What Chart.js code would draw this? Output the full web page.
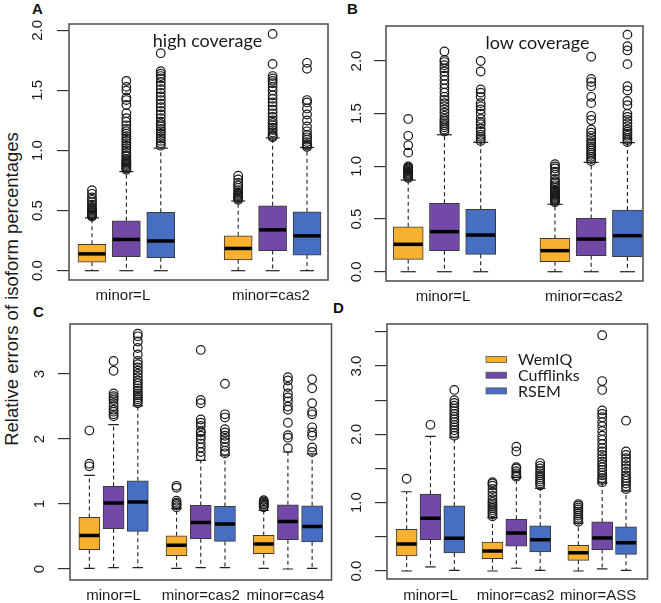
<!DOCTYPE html>
<html><head><meta charset="utf-8">
<script src="https://cdn.jsdelivr.net/npm/chart.js@4"></script>
<style>
html,body{margin:0;padding:0;background:#fff}
body{width:661px;height:603px;overflow:hidden;position:relative;font-family:"Liberation Sans",Arial,sans-serif}
canvas{position:absolute}
.letter{position:absolute;font:bold 15px/1 "Liberation Sans",Arial,sans-serif;color:#111}
#yt{position:absolute;left:12px;top:289px;width:0;height:0}
#yt div{position:absolute;left:0;top:0;transform:translate(-50%,-50%) rotate(-90deg);white-space:nowrap;font:18.5px/1 "Liberation Sans",Arial,sans-serif;color:#1a1a1a}
</style></head><body>
<div id="yt"><div>Relative errors of isoform percentages</div></div>
<div class="letter" style="left:32px;top:1px">A</div>
<div class="letter" style="left:347px;top:1px">B</div>
<div class="letter" style="left:33px;top:304px">C</div>
<div class="letter" style="left:333px;top:300px">D</div>
<canvas id="cA"></canvas>
<canvas id="cB"></canvas>
<canvas id="cC"></canvas>
<canvas id="cD"></canvas>
<script>
// ---------------- data ----------------
const methods = ['WemIQ', 'Cufflinks', 'RSEM'];
const colors = ['#F7B030', '#7249A6', '#466EC1'];

// box stats per group: [low whisker, Q1, median, Q3, high whisker]
// Panel A (high coverage)
const A_groups = ['minor=L', 'minor=cas2'];
const A_yticks = [0, 0.5, 1, 1.5, 2];
const A_ylabels = ['0.0', '0.5', '1.0', '1.5', '2.0'];
const A_WemIQ = [[0, 0.07, 0.14, 0.22, 0.44], [0, 0.09, 0.185, 0.29, 0.58]];
const A_Cufflinks = [[0, 0.117, 0.26, 0.415, 0.825], [0, 0.167, 0.34, 0.54, 1.105]];
const A_RSEM = [[0, 0.108, 0.247, 0.486, 1.02], [0, 0.13, 0.29, 0.49, 1.025]];
const A_WemIQ_out = [
  [0.45, 0.46, 0.465, 0.47, 0.48, 0.49, 0.50, 0.51, 0.52, 0.53, 0.55, 0.57, 0.59, 0.61, 0.64, 0.67],
  [0.59, 0.60, 0.61, 0.62, 0.63, 0.64, 0.65, 0.67, 0.69, 0.71, 0.73, 0.76, 0.79]];
const A_Cufflinks_out = [
  [0.84, 0.85, 0.86, 0.87, 0.88, 0.89, 0.90, 0.91, 0.92, 0.93, 0.95, 0.96, 0.98, 1.00, 1.02, 1.04, 1.06, 1.08, 1.10, 1.12, 1.14, 1.16, 1.18, 1.21, 1.24, 1.27, 1.31, 1.38, 1.42, 1.44, 1.50, 1.53, 1.58],
  [1.11, 1.12, 1.13, 1.15, 1.17, 1.19, 1.21, 1.23, 1.25, 1.28, 1.31, 1.34, 1.37, 1.40, 1.43, 1.46, 1.50, 1.53, 1.56, 1.58, 1.60, 1.62, 1.72, 1.97]];
const A_RSEM_out = [
  [1.04, 1.06, 1.08, 1.10, 1.12, 1.14, 1.16, 1.18, 1.20, 1.22, 1.24, 1.27, 1.30, 1.33, 1.36, 1.39, 1.42, 1.45, 1.48, 1.51, 1.54, 1.57, 1.60, 1.62, 1.64, 1.66, 1.81],
  [1.03, 1.04, 1.05, 1.07, 1.09, 1.11, 1.13, 1.16, 1.20, 1.25, 1.30, 1.35, 1.40, 1.42, 1.68, 1.73]];

// Panel B (low coverage)
const B_groups = ['minor=L', 'minor=cas2'];
const B_yticks = [0, 0.5, 1, 1.5, 2];
const B_ylabels = ['0.0', '0.5', '1.0', '1.5', '2.0'];
const B_WemIQ = [[0, 0.117, 0.26, 0.427, 0.87], [0, 0.095, 0.2, 0.316, 0.64]];
const B_Cufflinks = [[0, 0.2, 0.38, 0.65, 1.30], [0, 0.152, 0.31, 0.506, 1.038]];
const B_RSEM = [[0, 0.165, 0.348, 0.592, 1.228], [0, 0.142, 0.342, 0.585, 1.225]];
const B_WemIQ_out = [
  [0.89, 0.90, 0.91, 0.92, 0.93, 0.94, 0.95, 0.96, 0.97, 0.98, 0.99, 1.00, 1.13, 1.20, 1.29, 1.45],
  [0.66, 0.67, 0.68, 0.69, 0.70, 0.71, 0.72, 0.73, 0.74, 0.75, 0.76, 0.77, 0.78, 0.80, 0.82, 0.84, 0.86, 0.88, 0.92, 0.95, 0.98, 1.00, 1.02]];
const B_Cufflinks_out = [
  [1.33, 1.35, 1.37, 1.39, 1.41, 1.43, 1.45, 1.48, 1.51, 1.54, 1.57, 1.60, 1.63, 1.66, 1.70, 1.74, 1.78, 1.82, 1.86, 1.90, 1.93, 1.96, 1.99, 2.01, 2.09],
  [1.05, 1.07, 1.09, 1.11, 1.13, 1.15, 1.17, 1.19, 1.21, 1.23, 1.26, 1.29, 1.32, 1.35, 1.44, 1.48, 1.60, 1.66, 1.76, 1.80, 1.83, 2.04]];
const B_RSEM_out = [
  [1.24, 1.26, 1.28, 1.30, 1.33, 1.36, 1.40, 1.42, 1.45, 1.50, 1.54, 1.57, 1.60, 1.66, 1.70, 1.73, 1.90, 2.00],
  [1.23, 1.25, 1.27, 1.29, 1.31, 1.33, 1.35, 1.38, 1.41, 1.44, 1.47, 1.50, 1.58, 1.62, 1.72, 1.76, 1.97, 2.10, 2.14, 2.25]];

// Panel C
const C_groups = ['minor=L', 'minor=cas2', 'minor=cas4'];
const C_yticks = [0, 1, 2, 3];
const C_ylabels = ['0', '1', '2', '3'];
const C_WemIQ = [[0.01, 0.297, 0.517, 0.794, 1.44], [0.01, 0.205, 0.364, 0.512, 0.93], [0.01, 0.236, 0.384, 0.517, 0.90]];
const C_Cufflinks = [[0.02, 0.62, 1.014, 1.27, 2.22], [0.02, 0.466, 0.717, 0.978, 1.67], [0, 0.45, 0.732, 0.988, 1.80]];
const C_RSEM = [[0.02, 0.579, 1.03, 1.357, 2.51], [0.02, 0.425, 0.691, 0.963, 1.75], [0.01, 0.415, 0.655, 0.973, 1.77]];
const C_WemIQ_out = [
  [1.58, 1.62, 2.13],
  [0.95, 0.98, 1.00, 1.02, 1.05, 1.25, 1.28],
  [0.95, 0.97, 0.99, 1.00, 1.02, 1.04, 1.06]];
const C_Cufflinks_out = [
  [2.35, 2.38, 2.42, 2.45, 2.50, 2.55, 2.60, 2.63, 2.66, 2.70, 3.05, 3.20],
  [1.73, 1.80, 1.87, 1.93, 2.00, 2.05, 2.10, 2.12, 2.20, 2.25, 2.30, 2.55, 2.60, 3.37],
  [1.86, 2.02, 2.06, 2.25, 2.45, 2.50, 2.58, 2.64, 2.70, 2.80, 2.90, 2.95]];
const C_RSEM_out = [
  [2.55, 2.58, 2.61, 2.64, 2.67, 2.70, 2.74, 2.78, 2.82, 2.86, 2.90, 2.95, 3.00, 3.05, 3.10, 3.15, 3.20, 3.30, 3.40, 3.50, 3.58, 3.62],
  [1.78, 1.82, 1.88, 1.95, 2.00, 2.05, 2.10, 2.15, 2.33, 2.38, 2.85],
  [1.80, 1.87, 2.05, 2.10, 2.18, 2.38, 2.42, 2.55, 2.78, 2.92]];

// Panel D
const D_groups = ['minor=L', 'minor=cas2', 'minor=ASS'];
const D_yticks = [0, 0.5, 1, 1.5, 2, 2.5, 3, 3.5];
const D_ylabels = ['0.0', '', '1.0', '', '2.0', '', '3.0', ''];
const D_WemIQ = [[0, 0.22, 0.396, 0.611, 1.16], [0, 0.181, 0.293, 0.425, 0.78], [0, 0.156, 0.269, 0.376, 0.70]];
const D_Cufflinks = [[0.06, 0.459, 0.772, 1.124, 1.97], [0.04, 0.362, 0.557, 0.757, 1.37], [0.03, 0.313, 0.484, 0.718, 1.29]];
const D_RSEM = [[0.01, 0.264, 0.479, 0.953, 1.95], [0.01, 0.278, 0.459, 0.66, 1.21], [0.01, 0.244, 0.415, 0.645, 1.17]];
const D_WemIQ_out = [
  [1.35],
  [0.80, 0.83, 0.86, 0.89, 0.92, 0.95, 0.98, 1.01, 1.05, 1.10, 1.15, 1.20, 1.25, 1.28, 1.30],
  [0.72, 0.75, 0.78, 0.81, 0.84, 0.87, 0.90, 0.93, 0.96, 0.98]];
const D_Cufflinks_out = [
  [2.14],
  [1.38, 1.40, 1.43, 1.46, 1.50, 1.52, 1.75, 1.82],
  [1.30, 1.33, 1.36, 1.40, 1.44, 1.48, 1.52, 1.56, 1.60, 1.65, 1.70, 1.75, 1.80, 1.86, 1.92, 1.98, 2.05, 2.12, 2.18, 2.25, 2.30, 2.35, 2.65, 2.78, 3.45]];
const D_RSEM_out = [
  [1.98, 2.02, 2.06, 2.10, 2.14, 2.18, 2.22, 2.26, 2.30, 2.34, 2.38, 2.42, 2.46, 2.50, 2.65],
  [1.25, 1.28, 1.31, 1.34, 1.37, 1.40, 1.43, 1.46, 1.50, 1.54, 1.58],
  [1.20, 1.24, 1.28, 1.32, 1.36, 1.40, 1.45, 1.50, 1.55, 1.60, 1.65, 1.70, 1.75, 2.20]];

// ---------------- layout (page pixels / axis units) ----------------
const SANS = '"Liberation Sans", Arial, sans-serif';
const NOTE = 'Lato, "Open Sans", sans-serif';
const LAY = {
  A: {canvas: [0, 0, 345, 312], frame: [69, 24, 340, 280], x: [0.333, 7.86], y: [-0.0775, 2.053], bases: [1, 5.25], labelAt: [1.9, 6.2], barW: 28, labelGap: 31.5, xPad: 7},
  B: {canvas: [343, 0, 661, 312], frame: [386, 26, 652, 281], x: [0.387, 7.48], y: [-0.088, 2.332], bases: [1, 5.05], labelAt: [1.96, 5.85], barW: 30, labelGap: 29, xPad: 7},
  C: {canvas: [0, 300, 345, 603], frame: [70, 324, 340, 580], x: [0.2, 11.0], y: [-0.169, 3.769], bases: [1, 4.6, 8.2], labelAt: [2, 5.6, 9.1], barW: 21, labelGap: 30, xPad: 7},
  D: {canvas: [343, 300, 661, 603], frame: [387, 324, 659, 579], x: [0.177, 11.1], y: [-0.117, 3.615], bases: [1, 4.6, 8.2], labelAt: [2, 5.57, 9.03], barW: 21, labelGap: 30, xPad: 8}
};

const framePlugin = {
  id: 'frame',
  afterDatasetsDraw(chart) {
    const {ctx, chartArea: a} = chart;
    ctx.save();
    ctx.strokeStyle = '#555';
    ctx.lineWidth = 1.6;
    ctx.strokeRect(a.left, a.top, a.right - a.left, a.bottom - a.top);
    ctx.restore();
  }
};

function notePlugin(text, dx, dy) {
  return {
    id: 'note',
    afterDraw(chart) {
      const {ctx, chartArea: a} = chart;
      ctx.save();
      ctx.font = '18px ' + NOTE;
      ctx.fillStyle = '#1a1a1a';
      ctx.textAlign = 'center';
      ctx.textBaseline = 'alphabetic';
      ctx.fillText(text, a.left + dx, a.top + dy);
      ctx.restore();
    }
  };
}

const legendPlugin = {
  id: 'boxlegend',
  afterDraw(chart) {
    const {ctx, chartArea: a} = chart;
    ctx.save();
    ctx.font = '16px ' + NOTE;
    ctx.textBaseline = 'middle';
    ctx.textAlign = 'left';
    methods.forEach((m, i) => {
      const cy = a.top + 35.5 + i * 15.7;
      ctx.fillStyle = colors[i];
      ctx.fillRect(a.left + 99, cy - 3, 20.5, 6);
      ctx.strokeStyle = '#555';
      ctx.lineWidth = 0.8;
      ctx.strokeRect(a.left + 99, cy - 3, 20.5, 6);
      ctx.fillStyle = '#1a1a1a';
      ctx.fillText(m, a.left + 131, cy + 0.5);
    });
    ctx.restore();
  }
};

const mctx = document.createElement('canvas').getContext('2d');
mctx.font = '15px ' + SANS;

function buildPanel(id, L, groups, boxes, outs, yTicks, yLabels, extraPlugins) {
  const canvas = document.getElementById(id);
  const [cl, ct, cr, cb] = L.canvas;
  const [fl, ft, fr, fb] = L.frame;
  canvas.width = cr - cl; canvas.height = cb - ct;
  canvas.style.left = cl + 'px'; canvas.style.top = ct + 'px';
  canvas.style.width = (cr - cl) + 'px'; canvas.style.height = (cb - ct) + 'px';

  const widest = Math.max(...yLabels.map(s => mctx.measureText(s).width));
  const yPad = L.labelGap - 12 - widest / 2;

  const datasets = [];
  const whisk = [], caps = [], meds = [], pts = [];
  methods.forEach((m, k) => {
    datasets.push({
      type: 'bar', label: m,
      data: groups.map((g, i) => ({x: L.bases[i] + k, y: [boxes[k][i][1], boxes[k][i][3]]})),
      backgroundColor: colors[k], borderColor: '#3a3a3a', borderWidth: 1, borderSkipped: false,
      barThickness: L.barW, grouped: false, order: 3
    });
    groups.forEach((g, i) => {
      const x = L.bases[i] + k;
      const [lo, q1, md, q3, hi] = boxes[k][i];
      whisk.push({x, y: q3}, {x, y: hi}, {x, y: null}, {x, y: q1}, {x, y: lo}, {x, y: null});
      caps.push({x, y: lo}, {x, y: hi});
      meds.push({x, y: md});
      outs[k][i].forEach(v => pts.push({x, y: v}));
    });
  });
  datasets.push({type: 'line', label: 'whiskers', data: whisk, borderColor: '#222', borderWidth: 1.1,
    borderDash: [4, 3], pointRadius: 0, fill: false, spanGaps: false, order: 4});
  datasets.push({type: 'scatter', label: 'caps', data: caps, pointStyle: 'line', pointRadius: L.barW / 4,
    borderColor: '#222', borderWidth: 1.2, order: 2});
  datasets.push({type: 'scatter', label: 'medians', data: meds, pointStyle: 'line', pointRadius: L.barW / 2 - 0.5,
    borderColor: '#000', borderWidth: 3.5, order: 0});
  datasets.push({type: 'scatter', label: 'outliers', data: pts, pointStyle: 'circle', pointRadius: 4.3,
    backgroundColor: 'rgba(0,0,0,0)', borderColor: '#1a1a1a', borderWidth: 1.2, order: 1});

  return new Chart(canvas, {
    type: 'bar',
    data: {datasets},
    plugins: [framePlugin].concat(extraPlugins || []),
    options: {
      responsive: false, animation: false, events: [],
      layout: {padding: {left: 0, top: ft - ct, right: cr - fr, bottom: 0}},
      plugins: {legend: {display: false}, tooltip: {enabled: false}},
      scales: {
        x: {
          type: 'linear', min: L.x[0], max: L.x[1], offset: false,
          grid: {display: false, drawTicks: false}, border: {display: false},
          afterBuildTicks: s => { s.ticks = L.labelAt.map(v => ({value: v})); },
          afterFit: s => { s.height = cb - fb; s.paddingLeft = 0; s.paddingRight = 0; },
          ticks: {autoSkip: false, maxRotation: 0, minRotation: 0, padding: L.xPad,
            font: {family: SANS, size: 15}, color: '#1a1a1a', callback: (v, i) => groups[i]}
        },
        y: {
          type: 'linear', min: L.y[0], max: L.y[1],
          grid: {drawOnChartArea: false, drawTicks: true, tickLength: 12, color: '#333', lineWidth: 1.2},
          border: {display: false},
          afterBuildTicks: s => { s.ticks = yTicks.map(v => ({value: v})); },
          afterFit: s => { s.width = fl - cl; s.paddingTop = 0; s.paddingBottom = 0; },
          ticks: {autoSkip: false, minRotation: 90, maxRotation: 90, crossAlign: 'center', padding: yPad,
            font: {family: SANS, size: 15}, color: '#1a1a1a', callback: (v, i) => yLabels[i]}
        }
      }
    }
  });
}

buildPanel('cA', LAY.A, A_groups, [A_WemIQ, A_Cufflinks, A_RSEM], [A_WemIQ_out, A_Cufflinks_out, A_RSEM_out],
  A_yticks, A_ylabels, [notePlugin('high coverage', 138.5, 22.5)]);
buildPanel('cB', LAY.B, B_groups, [B_WemIQ, B_Cufflinks, B_RSEM], [B_WemIQ_out, B_Cufflinks_out, B_RSEM_out],
  B_yticks, B_ylabels, [notePlugin('low coverage', 151.5, 23.3)]);
buildPanel('cC', LAY.C, C_groups, [C_WemIQ, C_Cufflinks, C_RSEM], [C_WemIQ_out, C_Cufflinks_out, C_RSEM_out],
  C_yticks, C_ylabels, []);
buildPanel('cD', LAY.D, D_groups, [D_WemIQ, D_Cufflinks, D_RSEM], [D_WemIQ_out, D_Cufflinks_out, D_RSEM_out],
  D_yticks, D_ylabels, [legendPlugin]);
</script>
</body></html>
